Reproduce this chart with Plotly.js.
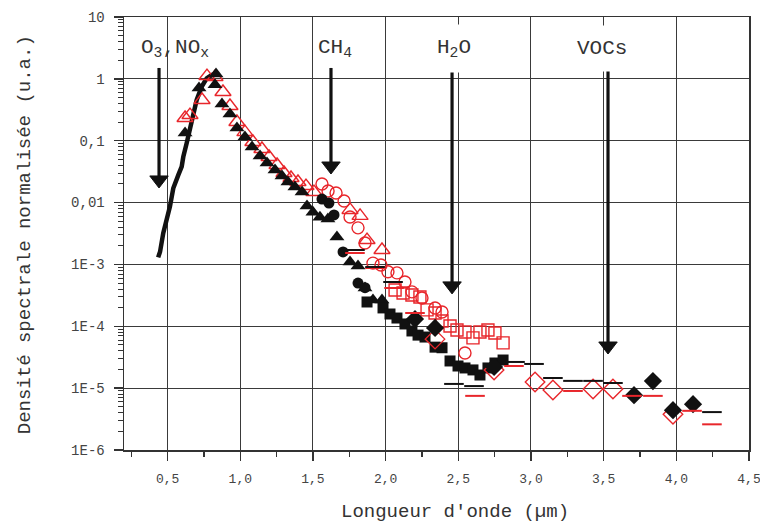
<!DOCTYPE html>
<html>
<head>
<meta charset="utf-8">
<script src="https://cdn.plot.ly/plotly-3.0.1.min.js"></script>
<style>html,body{margin:0;padding:0;background:#fff;}#chart{width:760px;height:523px;}</style>
</head>
<body>
<div id="chart"></div>
<script>
// ---- data ----
const specX = [0.435,0.448,0.470,0.482,0.503,0.516,0.539,0.563,0.574,0.597,0.608,0.631,0.654,0.677,0.700,0.735,0.769,0.803,0.838];
const specY = [1.3e-3,1.6e-3,3.2e-3,4.1e-3,6.8e-3,8.6e-3,0.017,0.026,0.028,0.038,0.055,0.091,0.149,0.277,0.455,0.75,1.02,1.15,1.23];

const redTriX = [0.620,0.654,0.737,0.771,0.826,0.881,0.929,0.977,1.032,1.087,1.149,1.198,1.253,1.301,1.349,1.397,1.452,1.507,1.755,1.824,1.872,1.975];
const redTriY = [0.233,0.26,0.455,1.11,1.07,0.614,0.364,0.201,0.138,0.0953,0.0734,0.0546,0.0405,0.0301,0.025,0.0215,0.0185,0.0148,0.0076,0.0061,0.00248,0.00171];

const blkTriX = [0.620,0.716,0.833,0.826,0.874,0.929,0.977,1.032,1.081,1.136,1.184,1.239,1.287,1.328,1.376,1.425,1.459,1.500,1.548,1.603,1.665,1.755,1.810,1.858,1.913,1.975];
const blkTriY = [0.133,0.711,1.2,0.80,0.393,0.271,0.161,0.115,0.079,0.0566,0.0436,0.0336,0.0269,0.0215,0.0179,0.0148,0.0088,0.0070,0.0058,0.0054,0.00278,0.00109,0.00094,0.000416,0.000266,0.000266];

const redCirX = [1.562,1.604,1.659,1.714,1.755,1.810,1.858,1.913,1.968,2.016,2.078,2.133,2.181,2.250,2.340,2.388,2.546];
const redCirY = [0.020,0.0154,0.0143,0.0106,0.00585,0.0039,0.00222,0.00105,0.00098,0.00076,0.00073,0.00052,0.00036,0.000287,0.000198,0.00017,0.000037];

const blkCirX = [1.562,1.610,1.645,1.707,1.810,1.858];
const blkCirY = [0.0114,0.0098,0.0063,0.00159,0.0005,0.00042];

const redSqX = [2.065,2.120,2.181,2.236,2.285,2.340,2.388,2.443,2.491,2.546,2.601,2.649,2.704,2.752,2.808];
const redSqY = [3.86e-4,3.45e-4,3.2e-4,2.98e-4,1.84e-4,1.64e-4,1.22e-4,1.01e-4,8.7e-5,8.1e-5,6.5e-5,8.1e-5,8.7e-5,7.8e-5,5.4e-5];

const blkSqX = [1.872,1.982,2.030,2.078,2.133,2.181,2.223,2.271,2.340,2.388,2.443,2.498,2.546,2.601,2.649,2.704,2.752,2.808];
const blkSqY = [2.47e-4,1.98e-4,1.58e-4,1.36e-4,1.09e-4,8.4e-5,7.2e-5,6.7e-5,4.6e-5,4.5e-5,2.75e-5,2.28e-5,2.12e-5,1.97e-5,1.63e-5,2.12e-5,2.55e-5,2.85e-5];

const redDiaX = [2.340,2.746,3.028,3.151,3.427,3.564,3.977];
const redDiaY = [6.2e-5,1.97e-5,1.26e-5,9.3e-6,9.7e-6,9.7e-6,3.8e-6];

const blkDiaX = [2.202,2.340,2.746,3.709,3.839,3.977,4.115];
const blkDiaY = [1.31e-4,9.4e-5,2.2e-5,7.7e-6,1.3e-5,4.4e-6,5.5e-6];

const redDashX = [1.789,1.927,2.058,2.202,2.615,2.883,3.289,3.695,3.839,4.108,4.245];
const redDashY = [1.53e-3,8.75e-4,4.16e-4,1.64e-4,7.5e-6,2.28e-5,9.0e-6,7.5e-6,7.5e-6,4.3e-6,2.6e-6];

const blkDashX = [1.789,1.927,2.051,2.470,2.608,2.890,3.021,3.151,3.289,3.427,3.564,4.245];
const blkDashY = [1.71e-3,9.1e-4,5.2e-4,1.17e-5,1.08e-5,2.65e-5,2.46e-5,1.46e-5,1.31e-5,1.31e-5,1.21e-5,4.1e-6];

const xTickVals = [0.5,1.0,1.5,2.0,2.5,3.0,3.5,4.0,4.5];
const xTickText = ["0,5","1,0","1,5","2,0","2,5","3,0","3,5","4,0","4,5"];
const yTickVals = [1e-6,1e-5,1e-4,1e-3,1e-2,1e-1,1,10];
const yTickText = ["1E-6","1E-5","1E-4","1E-3","0,01","0,1","1","10"];

const bandNames = ["O<sub>3</sub>,NO<sub>x</sub>","CH<sub>4</sub>","H<sub>2</sub>O","VOCs"];
const bandLabelX = [0.551,1.652,2.470,3.489];
const bandLabelY = 3.15;
const bandArrowX = [0.441,1.624,2.457,3.530];
const bandArrowTop = 1.5;
const bandArrowHead = [0.0232,0.039,0.00045,0.000048];

// ---- styling ----
const RED = '#e8262b';
const BLK = '#111111';
const FONT = 'Liberation Mono, Courier New, monospace';

const minorY = [];
for (let e = -6; e < 1; e++) for (let k = 2; k <= 9; k++) minorY.push(k * Math.pow(10, e));
const minorX = [];
for (let v = 0.25; v < 4.5; v += 0.5) minorX.push(v);

function sc(x, y, symbol, color, size, open) {
  const m = open
    ? {symbol: symbol, size: size, color: color, line: {color: color, width: 1.4}}
    : {symbol: symbol, size: size, color: color, line: {width: 0}};
  return {x: x, y: y, type: 'scatter', mode: 'markers', marker: m, showlegend: false, hoverinfo: 'skip'};
}

const traces = [];
// band arrows: shafts then filled heads
for (let i = 0; i < bandArrowX.length; i++) {
  traces.push({
    x: [bandArrowX[i], bandArrowX[i]], y: [bandArrowTop, bandArrowHead[i]],
    type: 'scatter', mode: 'lines', line: {color: '#111111', width: 3.2},
    showlegend: false, hoverinfo: 'skip'
  });
}
traces.push({
  x: bandArrowX, y: bandArrowHead, type: 'scatter', mode: 'markers',
  marker: {symbol: 'triangle-down', size: 16, color: '#111111', line: {color: '#111111', width: 1}},
  showlegend: false, hoverinfo: 'skip'
});
traces.push(
  {x: specX, y: specY, type: 'scatter', mode: 'lines', line: {color: BLK, width: 4.5}, showlegend: false, hoverinfo: 'skip'},
  sc(redTriX, redTriY, 'triangle-up-open', RED, 14, true),
  sc(blkTriX, blkTriY, 'triangle-up', BLK, 13, false),
  sc(redCirX, redCirY, 'circle-open', RED, 12, true),
  sc(blkCirX, blkCirY, 'circle', BLK, 11, false),
  sc(redSqX, redSqY, 'square-open', RED, 12, true),
  sc(blkSqX, blkSqY, 'square', BLK, 11, false),
  sc(redDiaX, redDiaY, 'diamond-open', RED, 15, true),
  sc(blkDiaX, blkDiaY, 'diamond', BLK, 14, false),
  {x: redDashX, y: redDashY, type: 'scatter', mode: 'markers', marker: {symbol: 'line-ew', size: 14, line: {color: RED, width: 2}}, showlegend: false, hoverinfo: 'skip'},
  {x: blkDashX, y: blkDashY, type: 'scatter', mode: 'markers', marker: {symbol: 'line-ew', size: 14, line: {color: BLK, width: 2}}, showlegend: false, hoverinfo: 'skip'}
);

const annotations = [];
for (let i = 0; i < bandNames.length; i++) {
  annotations.push({
    x: bandLabelX[i], y: Math.log10(bandLabelY), xref: 'x', yref: 'y', text: bandNames[i], showarrow: false,
    font: {family: FONT, size: 21, color: '#333'}, xanchor: 'center', yanchor: 'middle',
    bgcolor: (i >= 2 ? '#ffffff' : 'rgba(0,0,0,0)'), borderpad: 11
  });
}
annotations.push({
  text: "Longueur d'onde (µm)", xref: 'paper', yref: 'paper', x: 0.5296, y: -0.143,
  xanchor: 'center', yanchor: 'middle', showarrow: false, font: {family: FONT, size: 19, color: '#333'}
});
annotations.push({
  text: 'Densité spectrale normalisée (u.a.)', xref: 'paper', yref: 'paper', x: -0.158, y: 0.4965,
  xanchor: 'center', yanchor: 'middle', textangle: -90, showarrow: false, font: {family: FONT, size: 19, color: '#333'}
});

const layout = {
  width: 760, height: 523,
  margin: {l: 124, r: 11, t: 17, b: 73, pad: 0},
  paper_bgcolor: '#ffffff', plot_bgcolor: '#ffffff',
  showlegend: false,
  xaxis: {
    range: [0.2, 4.5], tickmode: 'array', tickvals: xTickVals, ticktext: xTickText,
    ticks: 'outside', ticklen: 9, tickwidth: 1.3, tickcolor: '#333',
    showline: true, linecolor: '#333', linewidth: 1.5, mirror: true,
    showgrid: true, gridcolor: '#3a3a3a', gridwidth: 1, zeroline: false,
    tickfont: {family: FONT, size: 13, color: '#444'}, ticklabelstandoff: 7, ticklabeloverflow: 'allow',
    minor: {tickmode: 'array', tickvals: minorX, ticks: 'outside', ticklen: 5, tickwidth: 1.2, tickcolor: '#333', showgrid: false}
  },
  yaxis: {
    type: 'log', range: [-6, 1], tickmode: 'array', tickvals: yTickVals, ticktext: yTickText,
    ticks: 'outside', ticklen: 9, tickwidth: 1.3, tickcolor: '#333',
    showline: true, linecolor: '#333', linewidth: 1.5, mirror: true,
    showgrid: true, gridcolor: '#3a3a3a', gridwidth: 1, zeroline: false,
    tickfont: {family: FONT, size: 14, color: '#444'}, ticklabelstandoff: 6, ticklabeloverflow: 'allow',
    minor: {tickmode: 'array', tickvals: minorY, ticks: 'outside', ticklen: 5, tickwidth: 1, tickcolor: '#333', showgrid: false}
  },
  annotations: annotations
};

Plotly.newPlot('chart', traces, layout, {staticPlot: true, displayModeBar: false});
</script>
</body>
</html>
